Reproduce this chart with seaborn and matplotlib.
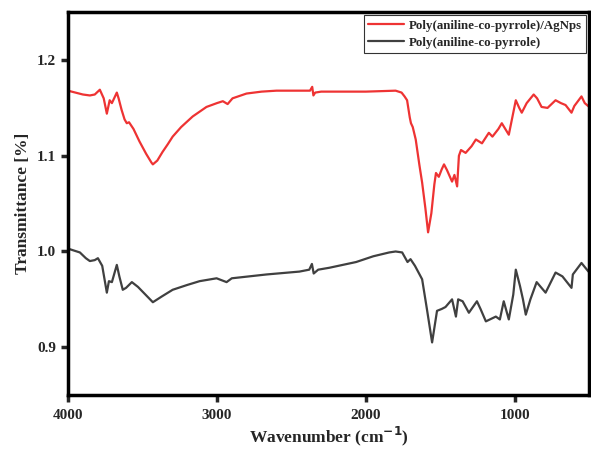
import matplotlib
matplotlib.use("Agg")
import matplotlib.pyplot as plt
import numpy as np
import pandas as pd
import seaborn as sns

# FTIR spectra (wavenumber in cm-1, transmittance)
label_ag = "Poly(aniline-co-pyrrole)/AgNps"
label_pc = "Poly(aniline-co-pyrrole)"

ag_wn = [4000, 3950, 3900, 3853, 3820, 3786, 3760, 3739, 3720, 3705, 3672, 3660,
         3640, 3620, 3605, 3590, 3560, 3520, 3475, 3440, 3430, 3400, 3365, 3330,
         3297, 3240, 3163, 3070, 3000, 2960, 2928, 2895, 2801, 2700, 2600, 2400,
         2375, 2360, 2352, 2340, 2300, 2000, 1800, 1760, 1740, 1723, 1705, 1697,
         1685, 1665, 1640, 1622, 1600, 1582, 1560, 1540, 1529, 1510, 1490, 1475,
         1455, 1421, 1405, 1387, 1375, 1361, 1330, 1290, 1261, 1220, 1174, 1150,
         1110, 1087, 1040, 1010, 993, 970, 953, 920, 873, 850, 820, 780, 726, 690,
         659, 619, 600, 552, 530, 500]
ag_t = [1.168, 1.166, 1.164, 1.163, 1.164, 1.169, 1.160, 1.144, 1.158, 1.155, 1.166, 1.160,
        1.148, 1.138, 1.134, 1.135, 1.128, 1.115, 1.102, 1.093, 1.091, 1.095, 1.104, 1.112,
        1.120, 1.130, 1.141, 1.151, 1.155, 1.157, 1.154, 1.160, 1.165, 1.167, 1.168, 1.168,
        1.168, 1.172, 1.163, 1.166, 1.167, 1.167, 1.168, 1.166, 1.162, 1.158, 1.140, 1.134,
        1.130, 1.117, 1.090, 1.072, 1.045, 1.020, 1.040, 1.070, 1.082, 1.078, 1.086, 1.091,
        1.085, 1.073, 1.080, 1.068, 1.100, 1.106, 1.103, 1.110, 1.117, 1.113, 1.124, 1.120,
        1.128, 1.134, 1.122, 1.145, 1.158, 1.150, 1.145, 1.155, 1.164, 1.160, 1.151, 1.150,
        1.158, 1.155, 1.153, 1.145, 1.152, 1.162, 1.155, 1.151]

pc_wn = [4000, 3920, 3880, 3853, 3820, 3799, 3770, 3739, 3725, 3705, 3672, 3655,
         3632, 3610, 3571, 3530, 3480, 3430, 3370, 3297, 3200, 3116, 3002, 2935,
         2900, 2667, 2446, 2380, 2362, 2350, 2320, 2245, 2065, 1950, 1843, 1800,
         1756, 1720, 1700, 1670, 1622, 1590, 1555, 1522, 1490, 1465, 1421, 1395,
         1380, 1350, 1308, 1254, 1230, 1194, 1127, 1100, 1074, 1040, 1010, 993,
         965, 945, 926, 895, 853, 793, 726, 680, 619, 610, 552, 505]
pc_t = [1.003, 0.999, 0.993, 0.990, 0.991, 0.993, 0.985, 0.957, 0.969, 0.968, 0.986, 0.974,
        0.960, 0.962, 0.968, 0.963, 0.955, 0.947, 0.953, 0.960, 0.965, 0.969, 0.972, 0.968,
        0.972, 0.976, 0.979, 0.981, 0.987, 0.977, 0.981, 0.983, 0.989, 0.995, 0.999, 1.000,
        0.999, 0.989, 0.992, 0.985, 0.971, 0.940, 0.905, 0.938, 0.940, 0.942, 0.950, 0.932,
        0.950, 0.948, 0.936, 0.948, 0.940, 0.927, 0.932, 0.929, 0.948, 0.929, 0.955, 0.981,
        0.964, 0.950, 0.934, 0.950, 0.968, 0.957, 0.978, 0.974, 0.962, 0.976, 0.988, 0.979]

df = pd.concat([
    pd.DataFrame({"wn": ag_wn, "T": ag_t, "sample": label_ag}),
    pd.DataFrame({"wn": pc_wn, "T": pc_t, "sample": label_pc}),
], ignore_index=True)

sns.set_style("ticks")
plt.rcParams["font.family"] = ["Liberation Serif", "DejaVu Serif"]
plt.rcParams["font.weight"] = "bold"

fig = plt.figure(figsize=(5.91, 4.51), dpi=100)
ax = fig.add_axes([0.115, 0.124, 0.882, 0.849])

sns.lineplot(
    data=df, x="wn", y="T", hue="sample", sort=False, estimator=None,
    palette={label_ag: "#ee3333", label_pc: "#404040"},
    linewidth=1.6, ax=ax,
)

ax.set_xlim(4000, 500)
ax.set_ylim(0.85, 1.25)
ax.set_xticks([4000, 3000, 2000, 1000])
ax.set_yticks([0.9, 1.0, 1.1, 1.2])
ax.set_xlabel("Wavenumber (cm$^{\\mathbf{-1}}$)", fontsize=12.5, fontweight="bold", labelpad=2)
ax.set_ylabel("Transmittance [%]", fontsize=12.5, fontweight="bold")

for s in ax.spines.values():
    s.set_linewidth(2.5)
    s.set_color("black")
ax.tick_params(axis="both", direction="out", width=2.5, length=5, labelsize=11)
ax.tick_params(axis="x", pad=5)
for t in ax.get_xticklabels() + ax.get_yticklabels():
    t.set_fontweight("bold")

leg = ax.legend(loc="upper right", frameon=True, fancybox=False,
                handlelength=2.8, handletextpad=0.3, borderpad=0.35,
                labelspacing=0.35, borderaxespad=0.25,
                prop={"weight": "bold", "size": 9.3})
leg.get_frame().set_edgecolor("black")
leg.get_frame().set_linewidth(0.8)
leg.set_title(None)

fig.savefig("out.png", dpi=100)
